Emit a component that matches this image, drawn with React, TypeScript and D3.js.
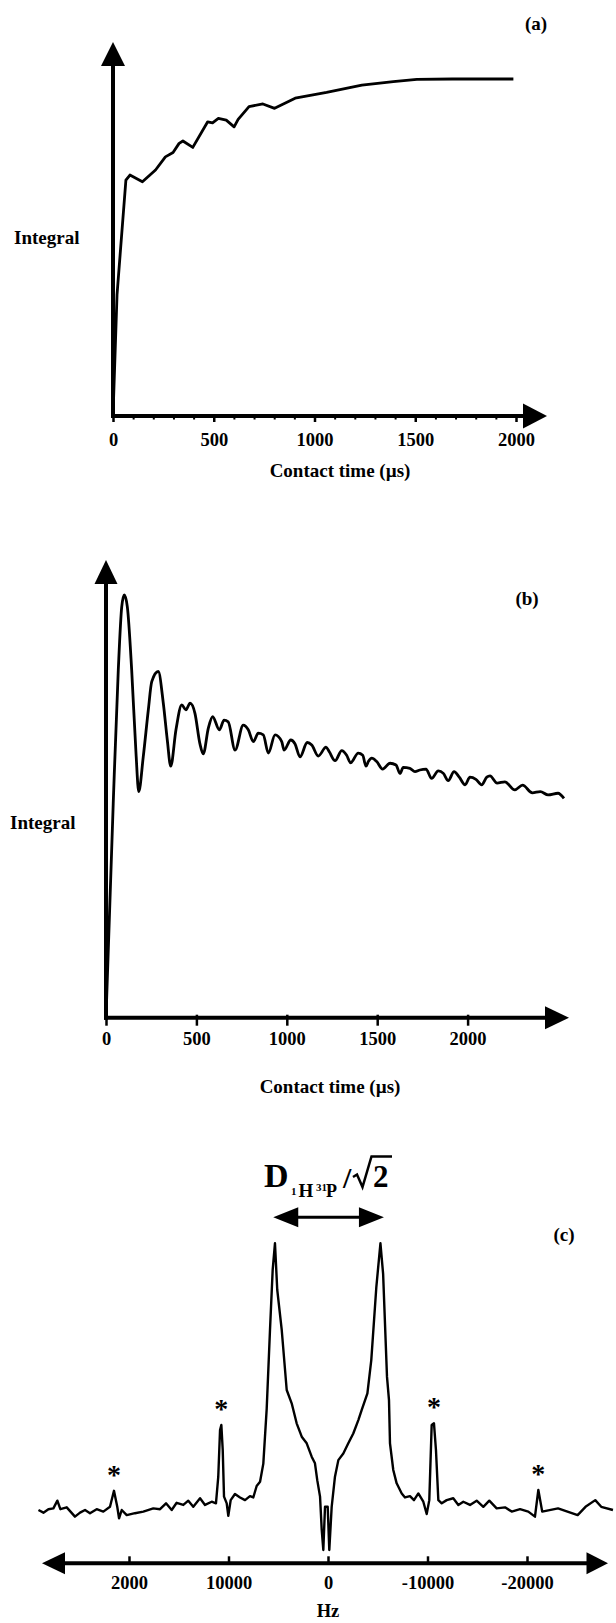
import React, { useEffect, useRef } from "react";
import * as d3 from "d3";

// (a) cross-polarisation build-up
const timeA = [0, 20, 64, 84, 146, 211, 260, 298, 328, 347, 396, 470, 494, 523, 562, 601, 621, 675, 744, 802, 904, 1060, 1235, 1391, 1508, 1684, 1987];
const integralA = [0, 0.36, 0.7, 0.715, 0.695, 0.73, 0.769, 0.782, 0.809, 0.816, 0.797, 0.873, 0.87, 0.883, 0.878, 0.858, 0.88, 0.918, 0.926, 0.913, 0.943, 0.96, 0.982, 0.992, 0.999, 1.0, 1.0];
const ticksA = [0, 500, 1000, 1500, 2000];
const minorA = [100, 200, 300, 400, 600, 700, 800, 900, 1100, 1200, 1300, 1400, 1600, 1700, 1800, 1900];

// (b) oscillating build-up
const timeB = [0, 40, 68, 87, 101, 118, 142, 166, 181, 206, 234, 253, 289, 317, 339, 358, 387, 419, 442, 465, 492, 519, 538, 566, 590, 627, 653, 676, 714, 759, 787, 815, 842, 870, 898, 935, 972, 985, 1022, 1045, 1073, 1113, 1138, 1174, 1217, 1235, 1267, 1304, 1331, 1353, 1395, 1420, 1438, 1451, 1470, 1497, 1530, 1571, 1604, 1626, 1644, 1681, 1709, 1736, 1770, 1801, 1838, 1866, 1893, 1925, 1954, 1986, 2013, 2046, 2078, 2106, 2124, 2163, 2206, 2261, 2304, 2358, 2402, 2445, 2500, 2533];
const integralB = [0, 0.507, 0.823, 0.972, 1.0, 0.972, 0.823, 0.625, 0.535, 0.617, 0.728, 0.795, 0.819, 0.744, 0.657, 0.595, 0.681, 0.74, 0.728, 0.744, 0.72, 0.649, 0.624, 0.685, 0.712, 0.681, 0.704, 0.7, 0.633, 0.692, 0.681, 0.653, 0.673, 0.669, 0.626, 0.669, 0.653, 0.633, 0.657, 0.648, 0.617, 0.651, 0.645, 0.619, 0.64, 0.629, 0.608, 0.632, 0.621, 0.603, 0.626, 0.621, 0.595, 0.606, 0.614, 0.606, 0.588, 0.602, 0.598, 0.578, 0.592, 0.59, 0.582, 0.586, 0.588, 0.566, 0.584, 0.578, 0.561, 0.582, 0.569, 0.551, 0.569, 0.564, 0.551, 0.569, 0.572, 0.555, 0.558, 0.539, 0.55, 0.532, 0.535, 0.527, 0.531, 0.519];
const ticksB = [0, 500, 1000, 1500, 2000];

// (c) spectrum
const freqC = [29100, 28600, 28100, 27600, 27200, 26900, 26260, 25430, 24920, 24420, 23920, 23250, 22580, 21910, 21510, 21180, 21000, 20730, 20230, 19400, 18560, 17560, 16880, 16280, 15710, 15210, 14540, 14040, 13540, 12860, 12360, 11690, 11260, 11030, 10850, 10720, 10580, 10450, 10180, 10020, 9780, 9350, 8840, 8340, 7840, 7510, 7170, 6830, 6500, 6160, 5830, 5560, 5330, 5100, 4650, 4150, 3650, 3150, 2640, 2140, 1640, 1310, 1080, 800, 630, 470, 300, 30, -130, -370, -700, -1040, -1540, -2040, -2540, -3050, -3390, -3960, -4350, -4860, -5270, -5540, -5930, -6130, -6230, -6560, -6900, -7410, -7740, -8240, -8640, -9080, -9580, -9920, -10180, -10420, -10650, -10850, -11090, -11430, -11930, -12590, -13100, -13600, -14270, -14940, -15610, -16210, -16950, -17790, -18460, -19300, -20130, -20800, -21140, -21530, -23120, -25090, -25880, -26860, -27460, -28640];
const intensityC = [0, -1.0, 0.3, 0.6, 3.5, 0.3, 1.0, -2.5, -1.0, 0, -1.2, 0.3, -0.6, 1.2, 7.2, 1.2, -3.1, 0, -1.9, -1.2, -0.6, 0.6, 0.3, 2.5, 0, 2.7, 1.9, 3.5, 1.2, 4.4, 1.9, 3.1, 2.5, 12.4, 30.0, 31.9, 22.5, 5.0, 2.5, -2.2, 3.7, 6.0, 4.7, 3.7, 5.2, 4.7, 9.0, 10.6, 17.4, 38, 67.5, 90.0, 100, 82.5, 67.5, 45.0, 40.0, 32.5, 27.5, 25.0, 20.0, 17.5, 11.2, 5.0, -7.5, -15.0, 1.2, 1.2, -15.0, 1.2, 12.5, 18.7, 21.2, 25.0, 28.7, 33.7, 37.5, 43.7, 56.2, 83.7, 100, 88.5, 49.9, 41.2, 25.0, 15.0, 10.0, 6.2, 4.7, 5.2, 3.7, 6.2, 3.1, -1.5, 3.7, 31.9, 32.5, 22.5, 3.7, 2.5, 3.7, 4.4, 1.9, 3.1, 1.9, 3.5, 1.2, 3.5, 0.6, 1.0, -0.6, 0.3, -0.6, -2.5, 7.5, -0.6, 0.6, -1.9, 1.2, 3.7, 1.2, 0];
const ticksC = [20000, 10000, 0, -10000, -20000];
const tickLabelsC = ["2000", "10000", "0", "-10000", "-20000"];
const sidebandHz = [21510, 10720, -10650, -21140];
const sidebandI = [7.2, 31.9, 32.5, 7.5];
const splittingHz = [5500, -5620];

const FONT = "'Liberation Serif', 'Times New Roman', Times, serif";

const App = () => {
  const svgRef = useRef<SVGSVGElement>(null);

  useEffect(() => {
    document.body.style.margin = "0";
    const svg = d3.select(svgRef.current);
    svg.selectAll("*").remove();
    const g = svg.append("g");

    const text = (x: number, y: number, s: string, size = 19, anchor = "middle") =>
      g
        .append("text")
        .attr("x", x)
        .attr("y", y)
        .attr("text-anchor", anchor)
        .attr("font-family", FONT)
        .attr("font-weight", "bold")
        .attr("font-size", size)
        .attr("fill", "#000")
        .text(s);

    const tri = (pts: number[][]) =>
      g
        .append("path")
        .attr("d", "M" + pts.map((p) => p.join(",")).join("L") + "Z")
        .attr("fill", "#000");

    const seg = (x1: number, y1: number, x2: number, y2: number, w = 4) =>
      g
        .append("line")
        .attr("x1", x1)
        .attr("y1", y1)
        .attr("x2", x2)
        .attr("y2", y2)
        .attr("stroke", "#000")
        .attr("stroke-width", w);

    const styleAxis = (ax: any, size: number) => {
      ax.select(".domain").remove();
      ax.selectAll("line").attr("stroke", "#000").attr("stroke-width", 2.5);
      ax.selectAll("text")
        .attr("font-family", FONT)
        .attr("font-weight", "bold")
        .attr("font-size", size)
        .attr("fill", "#000");
    };

    // ---------- (a) ----------
    const xA = d3.scaleLinear().domain([0, 2000]).range([113, 516]);
    const yA = d3.scaleLinear().domain([0, 1]).range([416, 79]);
    const ax0 = xA(0);
    const ay0 = yA(0);

    const axA = g
      .append("g")
      .attr("transform", `translate(0,${ay0})`)
      .call(d3.axisBottom(xA).tickValues(ticksA).tickSize(6).tickPadding(11).tickFormat(d3.format("d")));
    styleAxis(axA, 18.5);
    const axAm = g
      .append("g")
      .attr("transform", `translate(0,${ay0})`)
      .call(d3.axisBottom(xA).tickValues(minorA).tickSize(3.5).tickFormat(() => ""));
    styleAxis(axAm, 10);
    axAm.selectAll("line").attr("stroke-width", 2);

    seg(ax0, ay0 + 2, ax0, 60);
    tri([[ax0, 42], [ax0 - 12, 66], [ax0 + 12, 66]]);
    seg(ax0 - 2, ay0, 527, ay0);
    tri([[547, ay0], [523, ay0 - 12.5], [523, ay0 + 12.5]]);

    const lineA = d3
      .line<number>()
      .x((d, i) => xA(timeA[i]))
      .y((d) => yA(d));
    g.append("path")
      .datum(integralA)
      .attr("fill", "none")
      .attr("stroke", "#000")
      .attr("stroke-width", 2.8)
      .attr("stroke-linejoin", "round")
      .attr("d", lineA);

    text(536, 30, "(a)");
    text(14, 244, "Integral", 19, "start");
    text(340, 477, "Contact time (\u00b5s)");

    // ---------- (b) ----------
    const xB = d3.scaleLinear().domain([0, 2000]).range([106, 467.6]);
    const yB = d3.scaleLinear().domain([0, 1]).range([1017.7, 595]);
    const bx0 = xB(0);
    const by0 = yB(0);

    const axB = g
      .append("g")
      .attr("transform", `translate(0,${by0 - 3})`)
      .call(d3.axisBottom(xB).tickValues(ticksB).tickSize(11).tickPadding(6).tickFormat(d3.format("d")));
    styleAxis(axB, 18.5);

    seg(bx0, by0 + 2, bx0, 575);
    tri([[bx0, 560], [bx0 - 11.5, 584], [bx0 + 11.5, 584]]);
    seg(bx0 - 2, by0, 550, by0);
    tri([[569, by0], [545, by0 - 11.5], [545, by0 + 11.5]]);

    const lineB = d3
      .line<number>()
      .x((d, i) => xB(timeB[i]))
      .y((d) => yB(d))
      .curve(d3.curveMonotoneX);
    g.append("path")
      .datum(integralB)
      .attr("fill", "none")
      .attr("stroke", "#000")
      .attr("stroke-width", 2.8)
      .attr("stroke-linejoin", "round")
      .attr("d", lineB);

    text(527, 605, "(b)");
    text(10, 829, "Integral", 19, "start");
    text(330, 1093, "Contact time (\u00b5s)");

    // ---------- (c) ----------
    const xC = d3.scaleLinear().domain([20000, -20000]).range([129, 527]);
    const yC = d3.scaleLinear().domain([0, 100]).range([1510, 1243.3]);
    const cy0 = 1563.3;

    const axC = g
      .append("g")
      .attr("transform", `translate(0,${cy0})`)
      .call(
        d3
          .axisBottom(xC)
          .tickValues(ticksC)
          .tickSizeInner(-7)
          .tickSizeOuter(0)
          .tickPadding(13)
          .tickFormat((d, i) => tickLabelsC[i])
      );
    styleAxis(axC, 18.5);

    seg(60, cy0, 590, cy0);
    tri([[42, cy0], [65, cy0 - 11], [65, cy0 + 11]]);
    tri([[608, cy0], [586.5, cy0 - 11], [586.5, cy0 + 11]]);

    const lineC = d3
      .line<number>()
      .x((d, i) => xC(freqC[i]))
      .y((d) => yC(d));
    g.append("path")
      .datum(intensityC)
      .attr("fill", "none")
      .attr("stroke", "#000")
      .attr("stroke-width", 2.4)
      .attr("stroke-linejoin", "round")
      .attr("d", lineC);

    sidebandHz.forEach((hz, i) => {
      text(xC(hz), yC(sidebandI[i]) - 20 + 13, "*", 28);
    });

    // splitting arrow
    const sl = xC(splittingHz[0]);
    const sr = xC(splittingHz[1]);
    const sy = 1217.3;
    seg(sl + 20, sy, sr - 20, sy, 3);
    tri([[sl, sy], [sl + 25, sy - 10], [sl + 25, sy + 10]]);
    tri([[sr, sy], [sr - 25, sy - 10], [sr - 25, sy + 10]]);

    // D_{1H 31P} / sqrt(2)
    const cx = xC(0);
    text(cx - 64, 1187, "D", 34, "start");
    text(cx - 37, 1195, "1", 11, "start");
    text(cx - 29.5, 1196.7, "H", 19, "start");
    text(cx - 12, 1190.5, "31", 11, "start");
    text(cx - 2, 1196.7, "P", 18, "start");
    text(cx + 15, 1188, "/", 30, "start");
    g.append("path")
      .attr(
        "d",
        `M${cx + 25},${1177}L${cx + 29},${1174.5}L${cx + 34.5},${1187}L${cx + 43.5},${1156.5}L${cx + 64},${1156.5}`
      )
      .attr("fill", "none")
      .attr("stroke", "#000")
      .attr("stroke-width", 2.5);
    text(cx + 45, 1187.3, "2", 31, "start");

    text(564, 1241, "(c)");
    text(xC(0), 1617, "Hz", 18.5);
  }, []);

  return (
    <svg
      ref={svgRef}
      width={616}
      height={1623}
      style={{ position: "absolute", left: 0, top: 0, background: "#fff", display: "block" }}
    ></svg>
  );
};

export default App;
